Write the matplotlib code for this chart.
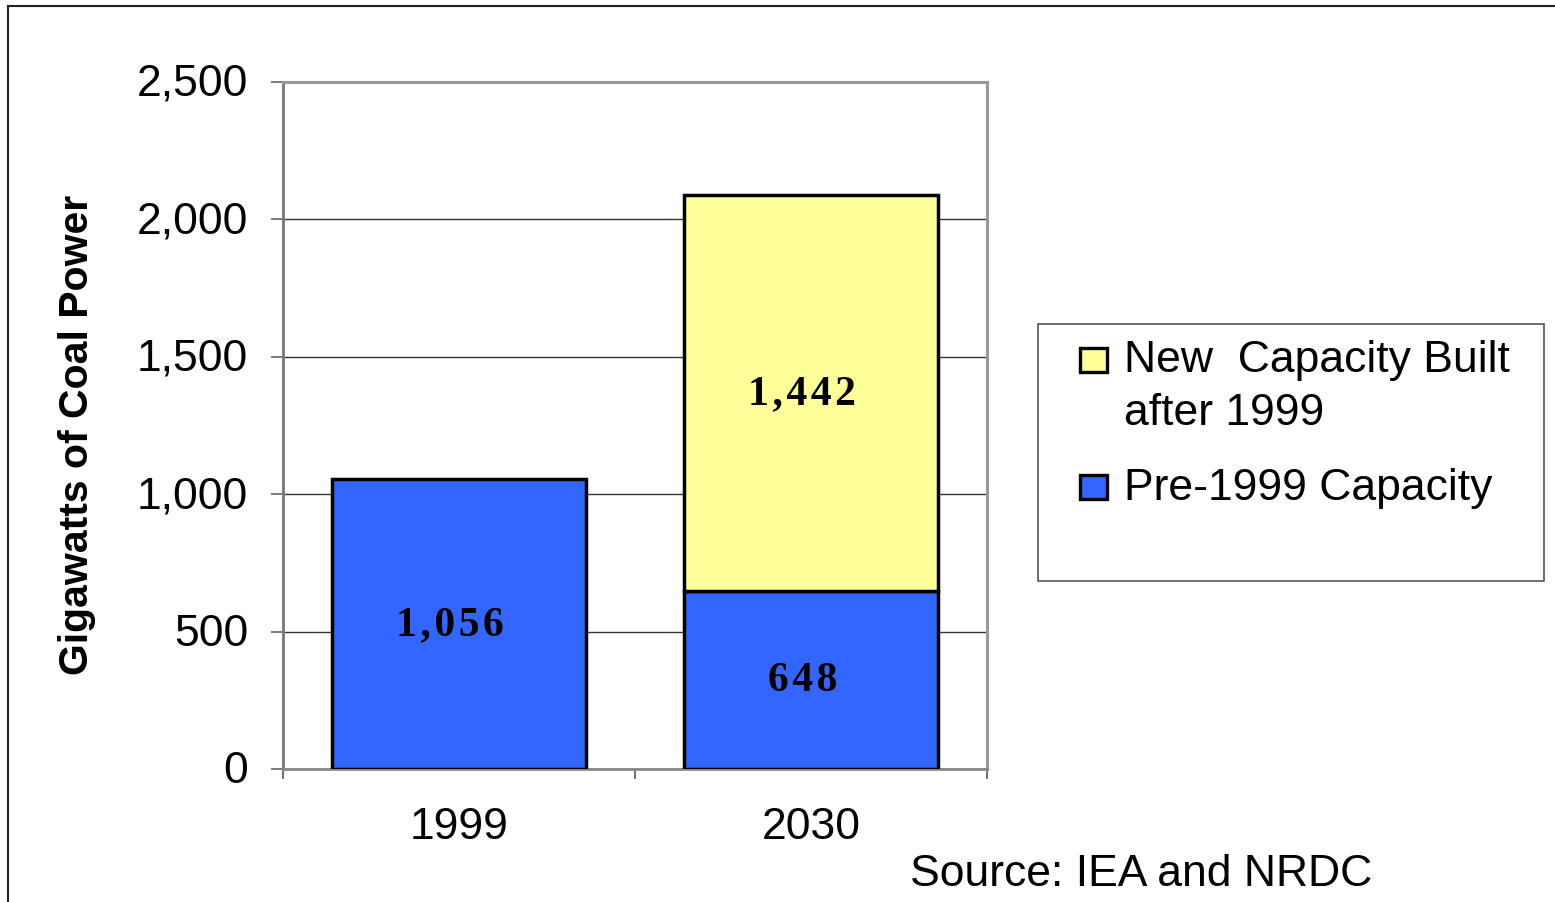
import matplotlib
matplotlib.use("Agg")
import matplotlib.pyplot as plt
from matplotlib.patches import Rectangle
from matplotlib.lines import Line2D
from matplotlib.ticker import FuncFormatter
from matplotlib.transforms import ScaledTranslation

categories = ["1999", "2030"]
pre_1999 = [1056, 648]
new_after = [0, 1442]
series_labels = ["New  Capacity Built\nafter 1999", "Pre-1999 Capacity"]
yticks = [0, 500, 1000, 1500, 2000, 2500]
ylabel = "Gigawatts of Coal Power"
source = "Source: IEA and NRDC"

BLUE = "#3366FF"
YELLOW = "#FFFF99"
SANS = ["Liberation Sans", "DejaVu Sans"]
SERIF = ["Liberation Serif", "DejaVu Serif"]
FS = 32

W, H = 1555, 903
fig = plt.figure(figsize=(W / 100, H / 100), dpi=100)
fig.patch.set_facecolor("white")

def fx(px):
    return px / W

def fy(py):
    return 1 - py / H

ax = fig.add_axes([fx(283), fy(770), fx(987) - fx(283), fy(83) - fy(770)])

x = list(range(len(categories)))
bw = 0.72
ax.bar(x, pre_1999, width=bw, color=BLUE, edgecolor="black", linewidth=2.5, zorder=3)
ax.bar(x[1:], new_after[1:], width=bw, bottom=pre_1999[1:], color=YELLOW,
       edgecolor="black", linewidth=2.5, zorder=3)

def lab(v):
    return "\u200a".join("{:,}".format(v))

for i in x:
    ax.text(i - 0.025, pre_1999[i] / 2, lab(pre_1999[i]), ha="center", va="center",
            fontsize=30, fontweight="bold", family=SERIF, zorder=4)
    if new_after[i] > 0:
        ax.text(i - 0.025, pre_1999[i] + new_after[i] / 2, lab(new_after[i]), ha="center",
                va="center", fontsize=30, fontweight="bold", family=SERIF, zorder=4)

ax.set_xlim(-0.5, len(categories) - 0.5)
ax.set_ylim(0, 2500)
ax.set_yticks(yticks)
ax.yaxis.set_major_formatter(FuncFormatter(lambda v, p: "{:,}".format(int(v))))
ax.grid(axis="y", color="#333333", linewidth=1.0, zorder=1)

ax.set_xticks([i - 0.5 for i in range(len(categories) + 1)])
ax.set_xticklabels([])
ax.set_xticks(x, minor=True)
ax.set_xticklabels(categories, minor=True, fontsize=FS, family=SANS)
ax.tick_params(axis="x", which="major", direction="out", length=7, width=1.2, color="#555555")
ax.tick_params(axis="x", which="minor", length=0, pad=27)
ax.tick_params(axis="y", direction="out", length=9, width=1.2, color="#666666", pad=16,
               labelsize=FS)
up = ScaledTranslation(0, 3 / 100, fig.dpi_scale_trans)
for t in ax.get_yticklabels():
    t.set_family(SANS)
    t.set_transform(t.get_transform() + up)

for s in ["top", "right"]:
    ax.spines[s].set_color("#999999")
    ax.spines[s].set_linewidth(2.2)
ax.spines["left"].set_color("#777777")
ax.spines["left"].set_linewidth(2)
ax.spines["bottom"].set_color("#888888")
ax.spines["bottom"].set_linewidth(2)

ax.set_ylabel(ylabel, fontsize=29.5, fontweight="bold", family=SANS)
ax.yaxis.set_label_coords((96 - 283) / 704, (770 - 434.5) / 687)

# legend (drawn manually)
fig.patches.append(Rectangle((fx(1038), fy(582)), fx(1544) - fx(1038), fy(325) - fy(582),
                             transform=fig.transFigure, facecolor="white",
                             edgecolor="#555555", linewidth=1.2))
handles = [(YELLOW, 361, 361), (BLUE, 488, 489)]
for (col, hy, ty), text in zip(handles, series_labels):
    fig.patches.append(Rectangle((fx(1080), fy(hy + 12)), fx(1107) - fx(1080), fy(hy - 12) - fy(hy + 12),
                                 transform=fig.transFigure, facecolor=col,
                                 edgecolor="black", linewidth=2.4))
    fig.text(fx(1124), fy(ty - 21), text, ha="left", va="top", fontsize=FS, family=SANS,
             linespacing=1.38)

fig.text(fx(910), fy(875), source, ha="left", va="center", fontsize=FS, family=SANS)

# outer frame
fig.add_artist(Line2D([fx(8), fx(8)], [fy(7), 0], transform=fig.transFigure, color="#222222", linewidth=1.5))
fig.add_artist(Line2D([fx(8), 1], [fy(7), fy(7)], transform=fig.transFigure, color="#222222", linewidth=1.5))

fig.savefig("out.png", dpi=100)
